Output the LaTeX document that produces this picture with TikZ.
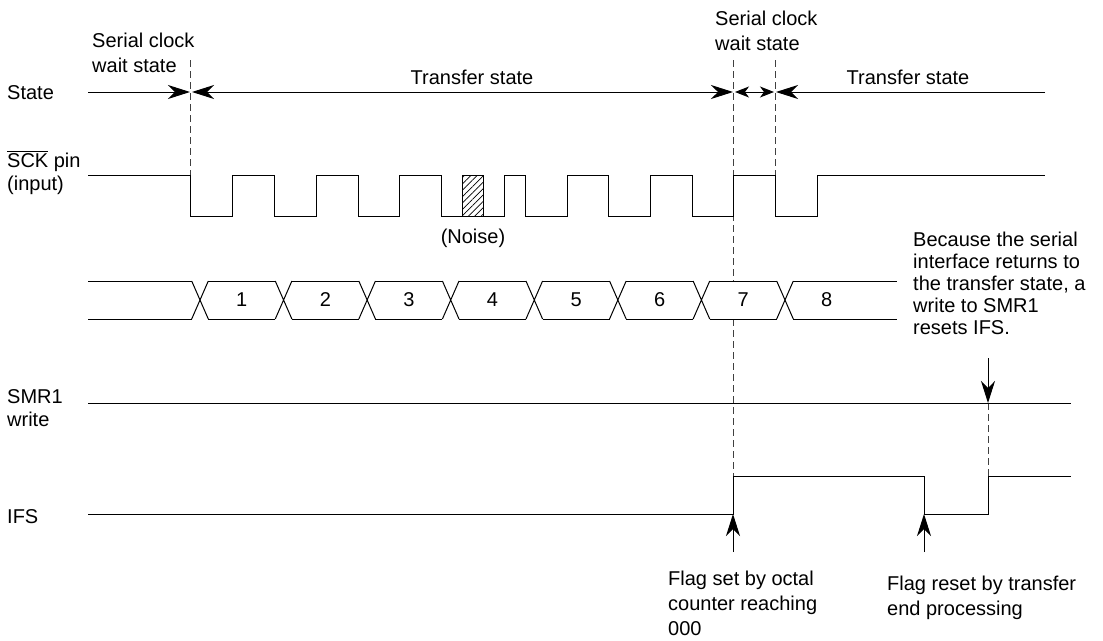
\documentclass[tikz,border=0pt]{standalone}
\usepackage{fontspec}
\setmainfont{Liberation Sans}
\usetikzlibrary{arrows.meta,patterns.meta}

\begin{document}
\begin{tikzpicture}[x=1pt,y=-1pt,
  every node/.style={font=\fontsize{20}{25}\selectfont, inner sep=0pt},
  lbl/.style={anchor=base west},
  blk/.style={anchor=north west, align=left},
  sig/.style={line width=1pt},
  guide/.style={line width=0.9pt, black!75, dash pattern=on 7pt off 4pt},
  arr/.style={line width=1pt, -{Stealth[length=22pt,width=14pt,inset=7pt]}},
  darr/.style={line width=1pt, {Stealth[length=22pt,width=14pt,inset=7pt]}-{Stealth[length=22pt,width=14pt,inset=7pt]}},
  sdarr/.style={line width=1pt, {Stealth[length=14pt,width=11pt,inset=4pt]}-{Stealth[length=14pt,width=11pt,inset=4pt]}}
]
\useasboundingbox (0,0) rectangle (1103,640);

\node[lbl] (lstate) at (7,99) {State};
\node[lbl] (lsck) at (7,167) {$\overline{\mbox{SCK}}$ pin};
\node[lbl] (linput) at (7,190) {(input)};
\node[blk, font=\fontsize{20}{23}\selectfont] (lsmr) at (7,389.5) {SMR1\\write};
\node[lbl] (lifs) at (7,523) {IFS};

\node[blk] (wait1) at (92,32.5) {Serial clock\\wait state};
\node[blk] (wait2) at (715,10.5) {Serial clock\\wait state};
\node[anchor=base] (xfer1) at (472,84) {Transfer state};
\node[anchor=base] (xfer2) at (908,84) {Transfer state};
\node[anchor=base] (noise) at (473,243) {(Noise)};
\node[blk, font=\fontsize{20}{22}\selectfont] (note) at (913,231.5) {Because the serial\\interface returns to\\the transfer state, a\\write to SMR1\\resets IFS.};
\node[blk] (fset) at (668,570.5) {Flag set by octal\\counter reaching\\000};
\node[blk] (freset) at (887,575.5) {Flag reset by transfer\\end processing};

\coordinate (s0) at (88,92);
\coordinate (w1) at (190,92);
\coordinate (t1) at (192,92);
\coordinate (t2) at (733,92);
\coordinate (w2a) at (735,92);
\coordinate (w2b) at (774,92);
\coordinate (t3) at (776,92);
\coordinate (s1) at (1045,92);
\draw[arr] (s0) -- (w1);
\draw[darr] (t1) -- (t2);
\draw[sdarr] (w2a) -- (w2b);
\draw[arr] (s1) -- (t3);

\draw[guide] (190,60) -- (190,216);
\draw[guide] (733,60) -- (733,281) (733,319) -- (733,476);
\draw[guide] (775,60) -- (775,175);
\draw[guide] (988,403) -- (988,476);

\draw[sig] (88,175) -- (190,175) -- (190,216) -- (232,216) -- (232,175) -- (274,175) -- (274,216)
  -- (316,216) -- (316,175) -- (358,175) -- (358,216) -- (399,216) -- (399,175) -- (441,175)
  -- (441,216) -- (504,216) -- (504,175) -- (525,175) -- (525,216) -- (567,216) -- (567,175)
  -- (608,175) -- (608,216) -- (650,216) -- (650,175) -- (692,175) -- (692,216) -- (733,216)
  -- (733,175) -- (775,175) -- (775,216) -- (817,216) -- (817,175) -- (1045,175);
\draw[sig, pattern={Lines[angle=45,distance=4.5pt,line width=0.7pt]}] (462,175) rectangle (483,216);

\foreach \i in {0,...,8} {
  \pgfmathsetmacro\xa{\i==0 ? 88 : 200+83.57*(\i-1)+8.3}
  \pgfmathsetmacro\xb{\i==8 ? 897 : 200+83.57*\i-8.3}
  \draw[sig] (\xa,281) -- (\xb,281) (\xa,319) -- (\xb,319);
}
\foreach \i in {1,...,8} {
  \pgfmathsetmacro\cx{200+83.57*(\i-1)}
  \draw[sig] (\cx-8.3,281) -- (\cx+8.3,319) (\cx-8.3,319) -- (\cx+8.3,281);
  \node (d\i) at (\cx+41.8,300) {\i};
}

\draw[sig] (88,403) -- (1071,403);
\draw[sig] (88,514) -- (733,514) -- (733,476) -- (924,476) -- (924,514) -- (988,514) -- (988,476) -- (1071,476);

\coordinate (wr0) at (988,358);
\coordinate (wr1) at (988,403);
\coordinate (up1a) at (733,552);
\coordinate (up1b) at (733,514);
\coordinate (up2a) at (924,552);
\coordinate (up2b) at (924,514);
\draw[arr] (wr0) -- (wr1);
\draw[arr] (up1a) -- (up1b);
\draw[arr] (up2a) -- (up2b);
\end{tikzpicture}
\end{document}
